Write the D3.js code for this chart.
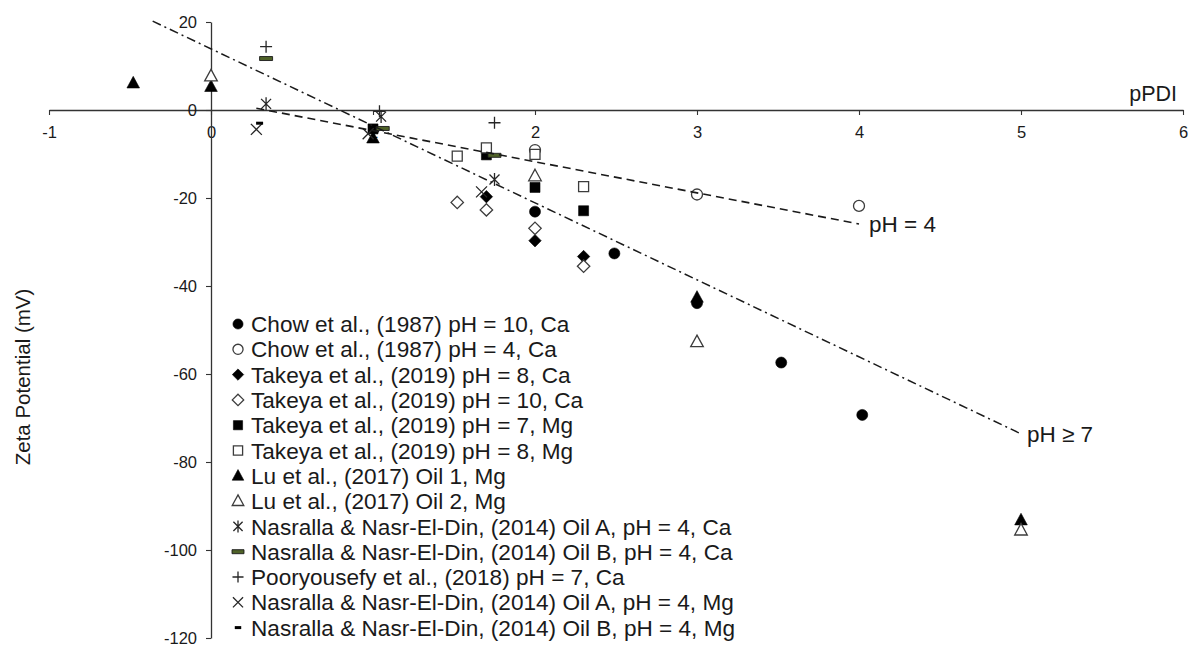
<!DOCTYPE html>
<html>
<head>
<meta charset="utf-8">
<script src="https://cdn.jsdelivr.net/npm/d3@7"></script>
<style>
  html, body { margin: 0; padding: 0; background: #fff; }
  svg { display: block; font-family: "Liberation Sans", Arial, Helvetica, sans-serif; }
</style>
</head>
<body>
<svg id="chart" width="1189" height="646"></svg>
<script>
// Zeta potential (mV) against pPDI, one array of [pPDI, zeta] pairs per study
const chowPh10Ca     = [[2.00, -23.1], [2.49, -32.6], [3.00, -43.9], [3.52, -57.4], [4.02, -69.3]];
const chowPh4Ca      = [[2.00, -9.1], [3.00, -19.2], [4.00, -21.8]];
const takeyaPh8Ca    = [[1.70, -19.7], [2.00, -29.7], [2.30, -33.3]];
const takeyaPh10Ca   = [[1.52, -21.0], [1.70, -22.7], [2.00, -26.9], [2.30, -35.5]];
const takeyaPh7Mg    = [[1.00, -4.3], [1.70, -10.2], [2.00, -17.6], [2.30, -22.9]];
const takeyaPh8Mg    = [[1.52, -10.5], [1.70, -8.6], [2.00, -10.1], [2.30, -17.4]];
const luOil1Mg       = [[-0.48, 6.1], [0.00, 5.3], [1.00, -6.4], [3.00, -42.6], [5.00, -93.2]];
const luOil2Mg       = [[0.00, 7.7], [2.00, -15.0], [3.00, -52.7], [5.00, -95.5]];
const nasrallaOilACa = [[0.34, 1.4], [1.05, -1.5], [1.75, -15.8]];
const nasrallaOilBCa = [[0.34, 11.7], [1.06, -4.2], [1.75, -10.3]];
const pooryousefyCa  = [[0.34, 14.4], [1.04, -0.3], [1.75, -2.9]];
const nasrallaOilAMg = [[0.28, -4.4], [0.97, -5.4], [1.67, -18.6]];
const nasrallaOilBMg = [[0.30, -3.0]];

// Legend entries, in drawing order
const seriesLabels = [
  "Chow et al., (1987) pH = 10, Ca",
  "Chow et al., (1987) pH = 4, Ca",
  "Takeya et al., (2019) pH = 8, Ca",
  "Takeya et al., (2019) pH = 10, Ca",
  "Takeya et al., (2019) pH = 7, Mg",
  "Takeya et al., (2019) pH = 8, Mg",
  "Lu et al., (2017) Oil 1, Mg",
  "Lu et al., (2017) Oil 2, Mg",
  "Nasralla & Nasr-El-Din, (2014) Oil A, pH = 4, Ca",
  "Nasralla & Nasr-El-Din, (2014) Oil B, pH = 4, Ca",
  "Pooryousefy et al., (2018) pH = 7, Ca",
  "Nasralla & Nasr-El-Din, (2014) Oil A, pH = 4, Mg",
  "Nasralla & Nasr-El-Din, (2014) Oil B, pH = 4, Mg"
];
const seriesMarkers = ["circleFilled", "circleOpen", "diamondFilled", "diamondOpen",
  "squareFilled", "squareOpen", "triangleFilled", "triangleOpen",
  "asterisk", "greenDash", "plus", "cross", "blackDash"];
const seriesValues = [chowPh10Ca, chowPh4Ca, takeyaPh8Ca, takeyaPh10Ca, takeyaPh7Mg,
  takeyaPh8Mg, luOil1Mg, luOil2Mg, nasrallaOilACa, nasrallaOilBCa, pooryousefyCa,
  nasrallaOilAMg, nasrallaOilBMg];

// Linear trend lines (end points) and their labels
const trendHighPh = [[-0.36, 20.2], [5.00, -73.6]];
const trendLowPh  = [[0.28, 0.4], [4.00, -25.9]];
const trendLabels = ["pH ≥ 7", "pH = 4"];

// Axes
const xTickValues = [-1, 0, 1, 2, 3, 4, 5, 6];
const yTickValues = [20, 0, -20, -40, -60, -80, -100, -120];
const xAxisTitle = "pPDI";
const yAxisTitle = "Zeta Potential (mV)";

const svg = d3.select("#chart");
const x = d3.scaleLinear().domain([-1, 6]).range([49, 1183]);
const y = d3.scaleLinear().domain([-120, 20]).range([638, 22]);

// axes cross at the origin
const xAxis = svg.append("g")
  .attr("transform", `translate(0,${y(0)})`)
  .call(d3.axisBottom(x).tickValues(xTickValues).tickSize(5).tickSizeOuter(0).tickPadding(11).tickFormat(d3.format("d")));
const yAxis = svg.append("g")
  .attr("transform", `translate(${x(0)},0)`)
  .call(d3.axisLeft(y).tickValues(yTickValues).tickSize(5).tickSizeOuter(0).tickPadding(9).tickFormat(d3.format("d")));

[xAxis, yAxis].forEach(g => {
  g.selectAll("path.domain").attr("stroke", "#333").attr("stroke-width", 1.3);
  g.selectAll(".tick line").attr("stroke", "#333").attr("stroke-width", 1.1);
  g.selectAll(".tick text").attr("fill", "#1a1a1a")
    .style("font-family", '"Liberation Sans", Arial, sans-serif').style("font-size", "16.5px");
});
xAxis.selectAll(".tick text").text(d => d < 0 ? "-" + Math.abs(d) : d);
yAxis.selectAll(".tick text").text(d => d < 0 ? "-" + Math.abs(d) : d);

svg.append("text")
  .attr("x", 1177).attr("y", 101)
  .attr("text-anchor", "end")
  .attr("font-size", 21.5).attr("fill", "#1a1a1a")
  .text(xAxisTitle);

svg.append("text")
  .attr("transform", `translate(30,${(y(-20) + y(-100)) / 2 + 3}) rotate(-90)`)
  .attr("text-anchor", "middle")
  .attr("font-size", 20.5).attr("fill", "#1a1a1a")
  .text(yAxisTitle);

// Marker shapes, centred on (0,0)
function markerPath(type, s) {
  const k = s || 1;
  switch (type) {
    case "circleFilled":
    case "circleOpen": {
      const r = 5.5 * k;
      return `M${r},0A${r},${r} 0 1,1 ${-r},0A${r},${r} 0 1,1 ${r},0Z`;
    }
    case "diamondFilled":
    case "diamondOpen": {
      const r = 6.2 * k;
      return `M0,${-r}L${r},0L0,${r}L${-r},0Z`;
    }
    case "squareFilled":
    case "squareOpen": {
      const h = 5 * k;
      return `M${-h},${-h}H${h}V${h}H${-h}Z`;
    }
    case "triangleFilled":
    case "triangleOpen": {
      const w = 6.3 * k;
      return `M0,${-6.8 * k}L${w},${4.8 * k}L${-w},${4.8 * k}Z`;
    }
    case "asterisk": {
      const d = 5 * k, v = 6.5 * k;
      return `M${-d},${-d}L${d},${d}M${-d},${d}L${d},${-d}M0,${-v}V${v}`;
    }
    case "plus": {
      const d = 6 * k;
      return `M${-d},0H${d}M0,${-d}V${d}`;
    }
    case "cross": {
      const d = 5.5 * k;
      return `M${-d},${-d}L${d},${d}M${-d},${d}L${d},${-d}`;
    }
    case "greenDash": {
      const w = 6.5 * k, h = 2;
      return `M${-w},${-h}H${w}V${h}H${-w}Z`;
    }
    case "blackDash": {
      const w = 3.5 * k, h = 1.5;
      return `M${-w},${-h}H${w}V${h}H${-w}Z`;
    }
  }
}

function styleMarker(sel, type) {
  if (type.endsWith("Filled")) {
    sel.attr("fill", "#000").attr("stroke", "#000").attr("stroke-width", 0.6);
  } else if (type.endsWith("Open")) {
    sel.attr("fill", "#fff").attr("stroke", "#3c3c3c").attr("stroke-width", 1.3);
  } else if (type === "greenDash") {
    sel.attr("fill", "#4f6228").attr("stroke", "#1b1b1b").attr("stroke-width", 0.9);
  } else if (type === "blackDash") {
    sel.attr("fill", "#000").attr("stroke", "none");
  } else {
    sel.attr("fill", "none").attr("stroke", "#262626").attr("stroke-width", 1.3);
  }
}

// Data points
const plot = svg.append("g");
seriesValues.forEach((values, i) => {
  const type = seriesMarkers[i];
  plot.append("g").selectAll("path")
    .data(values)
    .join("path")
    .attr("transform", d => `translate(${x(d[0])},${y(d[1])})`)
    .attr("d", markerPath(type))
    .call(styleMarker, type);
});

// Trend lines
const line = d3.line().x(d => x(d[0])).y(d => y(d[1]));
svg.append("path")
  .datum(trendHighPh)
  .attr("d", line)
  .attr("fill", "none").attr("stroke", "#1a1a1a").attr("stroke-width", 1.5)
  .attr("stroke-dasharray", "9,4,2,4");
svg.append("path")
  .datum(trendLowPh)
  .attr("d", line)
  .attr("fill", "none").attr("stroke", "#1a1a1a").attr("stroke-width", 1.6)
  .attr("stroke-dasharray", "8,5");

svg.append("text")
  .attr("x", x(trendHighPh[1][0]) + 6).attr("y", y(trendHighPh[1][1]) + 8)
  .attr("font-size", 22.5).attr("fill", "#1a1a1a")
  .text(trendLabels[0]);
svg.append("text")
  .attr("x", x(trendLowPh[1][0]) + 10).attr("y", y(trendLowPh[1][1]) + 8)
  .attr("font-size", 22.5).attr("fill", "#1a1a1a")
  .text(trendLabels[1]);

// Legend
const legend = svg.append("g").attr("transform", "translate(238,324)");
const rowGap = 25.3;
seriesLabels.forEach((label, i) => {
  const type = seriesMarkers[i];
  const row = legend.append("g").attr("transform", `translate(0,${i * rowGap})`);
  row.append("path")
    .attr("d", markerPath(type, 0.92))
    .call(styleMarker, type);
  row.append("text")
    .attr("x", 13).attr("dy", "0.36em")
    .attr("font-size", 22.6).attr("fill", "#1a1a1a")
    .text(label);
});
</script>
</body>
</html>
